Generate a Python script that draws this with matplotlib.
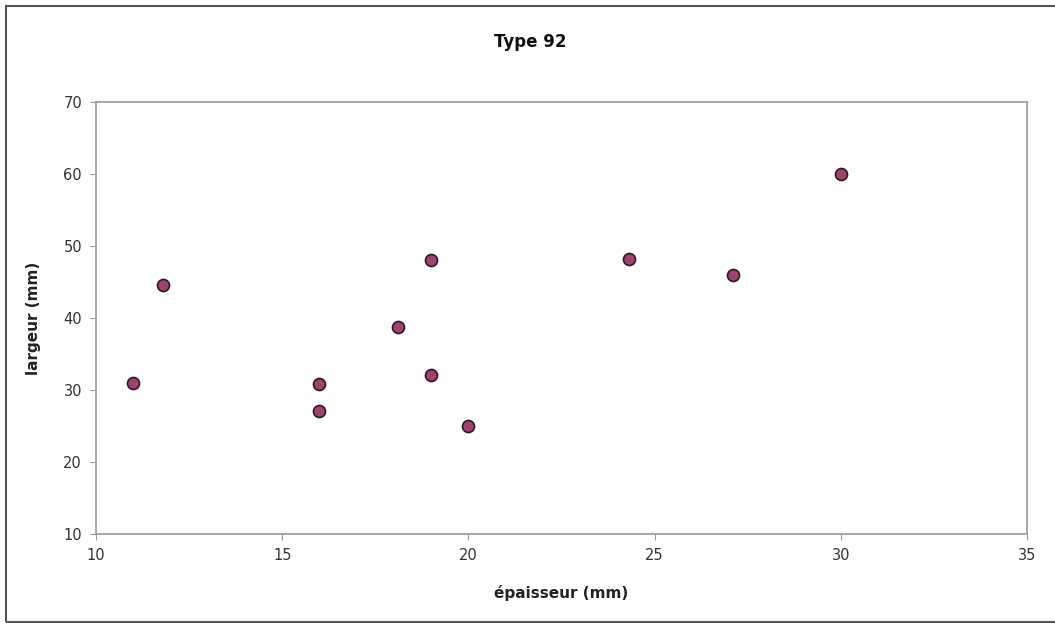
import matplotlib
matplotlib.use('Agg')
import matplotlib.pyplot as plt
from matplotlib.patches import Rectangle

plt.rcParams['font.family'] = ['DejaVu Sans']

# epaisseur (mm) / largeur (mm)
epaisseur = [11.0, 11.8, 16.0, 16.0, 18.1, 19.0, 19.0, 20.0, 24.3, 27.1, 30.0]
largeur = [31.0, 44.5, 30.8, 27.0, 38.8, 48.0, 32.0, 25.0, 48.2, 46.0, 60.0]

xticks = [10, 15, 20, 25, 30, 35]
yticks = [10, 20, 30, 40, 50, 60, 70]

fig = plt.figure(figsize=(10.55, 6.23), dpi=100)
ax = fig.add_axes([0.091, 0.143, 0.8825, 0.6935])

# outer chart border
fig.patches.append(Rectangle((0.006, 0.002), 1.2, 0.989, transform=fig.transFigure,
                             fill=False, edgecolor='#555555', linewidth=1.5))

ax.scatter(epaisseur, largeur, s=75, color='#a0426e', edgecolors='#2a1a22',
           linewidths=1.2, zorder=3)

ax.set_xlim(10, 35)
ax.set_ylim(10, 70)
ax.set_xticks(xticks)
ax.set_yticks(yticks)

for sp in ax.spines.values():
    sp.set_color('#999999')
    sp.set_linewidth(1.2)

ax.tick_params(direction='out', length=4, color='#999999', labelsize=10.5,
               labelcolor='#333333', pad=6)

fig.text(0.503, 0.932, 'Type 92', fontsize=12, fontweight='bold', color='#111111',
         ha='center', va='center')
ax.set_xlabel('épaisseur (mm)', fontsize=11, fontweight='bold', color='#222222', labelpad=16)
ax.set_ylabel('largeur (mm)', fontsize=11, fontweight='bold', color='#222222', labelpad=16)

fig.savefig('out.png', dpi=100)
